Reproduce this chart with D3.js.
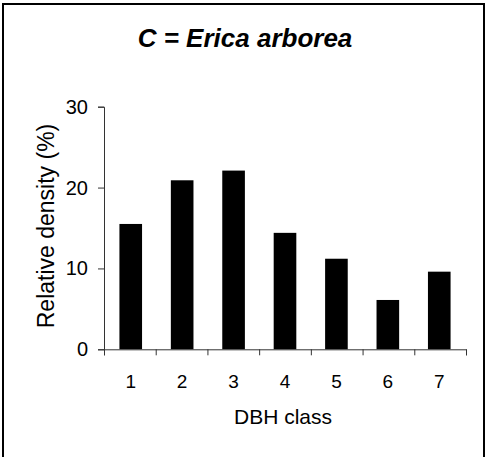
<!DOCTYPE html>
<html>
<head>
<meta charset="utf-8">
<script src="https://cdn.jsdelivr.net/npm/d3@7"></script>
<style>
  html, body { margin: 0; padding: 0; background: #fff; overflow: hidden; }
  svg { display: block; }
</style>
</head>
<body>
<div id="chart"></div>
<script>
const classes = ["1", "2", "3", "4", "5", "6", "7"];
const density = [15.5, 20.9, 22.1, 14.4, 11.2, 6.1, 9.6];
const yTicks = [0, 10, 20, 30];
const title = "C = Erica arborea";
const xTitle = "DBH class";
const yTitle = "Relative density (%)";

const font = "Liberation Sans, Arial, sans-serif";
const width = 491, height = 457;
const margin = { top: 106.7, right: 25, bottom: 107.7, left: 104 };
const innerWidth = width - margin.left - margin.right;
const innerHeight = height - margin.top - margin.bottom;

const svg = d3.select("#chart")
  .append("svg")
  .attr("width", width)
  .attr("height", height)
  .attr("font-family", font);

// frame round the whole chart
svg.append("rect")
  .attr("x", 3).attr("y", 4)
  .attr("width", 481).attr("height", 470)
  .attr("fill", "none")
  .attr("stroke", "#000")
  .attr("stroke-width", 2);

svg.append("text")
  .attr("x", 245)
  .attr("y", 47)
  .attr("text-anchor", "middle")
  .attr("font-size", 26)
  .attr("font-weight", "bold")
  .attr("font-style", "italic")
  .text(title);

const g = svg.append("g")
  .attr("transform", `translate(${margin.left},${margin.top})`);

const x = d3.scaleBand()
  .domain(classes)
  .range([0, innerWidth])
  .paddingInner(0.56)
  .paddingOuter(0.3);

// category boundaries for the tick marks
const xb = d3.scaleLinear()
  .domain([0, classes.length])
  .range([0, innerWidth]);

const y = d3.scaleLinear()
  .domain([0, 30])
  .range([innerHeight, 0]);

g.selectAll(".bar")
  .data(density)
  .enter()
  .append("rect")
  .attr("class", "bar")
  .attr("x", (d, i) => x(classes[i]))
  .attr("y", d => y(d))
  .attr("width", x.bandwidth())
  .attr("height", d => innerHeight - y(d))
  .attr("fill", "#000");

const yAxis = g.append("g")
  .call(d3.axisLeft(y).tickValues(yTicks).tickSize(6));
yAxis.selectAll("text").remove();

const xAxis = g.append("g")
  .attr("transform", `translate(0,${innerHeight})`)
  .call(d3.axisBottom(xb).tickValues(d3.range(classes.length + 1)).tickSize(6));
xAxis.selectAll("text").remove();

g.selectAll(".domain, .tick line").attr("stroke", "#333");

// tick labels, placed from the same scales
svg.selectAll(".ylabel")
  .data(yTicks)
  .enter()
  .append("text")
  .attr("class", "ylabel")
  .attr("x", margin.left - 16)
  .attr("y", d => margin.top + y(d) + 7)
  .attr("text-anchor", "end")
  .attr("font-size", 20)
  .text(d => d);

svg.selectAll(".xlabel")
  .data(classes)
  .enter()
  .append("text")
  .attr("class", "xlabel")
  .attr("x", d => margin.left + x(d) + x.bandwidth() / 2)
  .attr("y", margin.top + innerHeight + 39)
  .attr("text-anchor", "middle")
  .attr("font-size", 19)
  .text(d => d);

svg.append("text")
  .attr("x", 283)
  .attr("y", 424)
  .attr("text-anchor", "middle")
  .attr("font-size", 21)
  .text(xTitle);

svg.append("text")
  .attr("transform", "translate(54,226) rotate(-90)")
  .attr("text-anchor", "middle")
  .attr("font-size", 23)
  .text(yTitle);
</script>
</body>
</html>
